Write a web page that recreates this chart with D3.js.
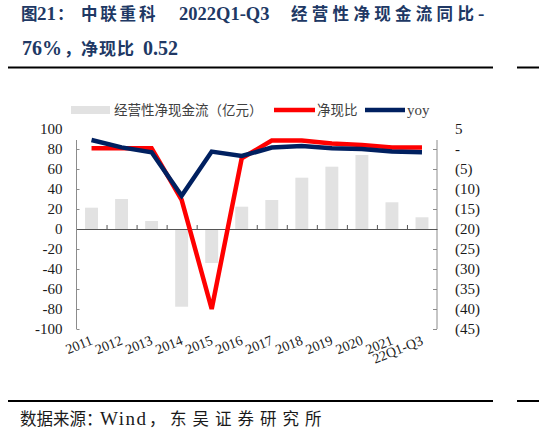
<!DOCTYPE html>
<html>
<head>
<meta charset="utf-8">
<script src="https://cdn.jsdelivr.net/npm/d3@7"></script>
<style>
  body { margin: 0; background: #fff; }
  svg { display: block; }
</style>
</head>
<body>
<svg id="chart" width="539" height="431"></svg>
<script>
// data
const categories = ['2011','2012','2013','2014','2015','2016','2017','2018','2019','2020','2021','22Q1-Q3']
const cashFlow = [21.3, 30, 8, -77.7, -34, 22.3, 29, 51.3, 62.3, 74, 26.7, 11.7]   // 亿元, left axis
const netCashRatio = [0.2, 0.2, 0.2, -12.7, -40, -2.3, 2.1, 2.1, 1.4, 1.0, 0.4, 0.4]  // right axis
const yoy = [2.25, 0.4, -0.8, -11.7, -0.65, -1.75, 0.35, 0.75, 0.2, 0, -0.65, -0.8]   // right axis
const leftTicks = [-100, -80, -60, -40, -20, 0, 20, 40, 60, 80, 100]
const rightTicks = [-45, -40, -35, -30, -25, -20, -15, -10, -5, 0, 5]

const svg = d3.select('#chart')
const navy = '#203864'
const serif = '"Liberation Serif", "Times New Roman", serif'
const cjk = '"Noto Sans CJK SC", sans-serif'

// title, two lines; pieces placed the way the original spaces them
const title = svg.append('g')
    .attr('fill', navy)
    .attr('font-weight', 'bold')
function piece(parent, x, txt, font, size, spacing) {
    parent.append('tspan')
        .attr('x', x)
        .attr('font-family', font)
        .attr('font-size', size)
        .attr('letter-spacing', spacing || 0)
        .text(txt)
}
const t1 = title.append('text').attr('y', 20)
piece(t1, 21, '图', cjk, 16.5)
piece(t1, 37, '21', serif, 19)
piece(t1, 57, '：', cjk, 16.5)
piece(t1, 81, '中联重科', cjk, 16.5, 2.8)
piece(t1, 179, '2022Q1-Q3', serif, 18.5)
piece(t1, 291, '经营性净现金流同比', cjk, 16.5, 4.3)
piece(t1, 478, '-', serif, 19)
const t2 = title.append('text').attr('y', 55)
piece(t2, 22, '76%', serif, 20)
piece(t2, 64, '，', cjk, 17)
piece(t2, 81, '净现比', cjk, 17, 1)
piece(t2, 143, '0.52', serif, 20)

// rules
svg.append('line').attr('x1', 8).attr('x2', 493).attr('y1', 67.5).attr('y2', 67.5).attr('stroke', '#000').attr('stroke-width', 2)
svg.append('line').attr('x1', 517).attr('x2', 539).attr('y1', 67.5).attr('y2', 67.5).attr('stroke', '#000').attr('stroke-width', 2)
svg.append('line').attr('x1', 8).attr('x2', 493).attr('y1', 401).attr('y2', 401).attr('stroke', '#000').attr('stroke-width', 2)
svg.append('line').attr('x1', 517).attr('x2', 539).attr('y1', 401).attr('y2', 401).attr('stroke', '#000').attr('stroke-width', 2)

// footer
const foot = svg.append('text').attr('y', 425).attr('fill', '#1a1a1a')
piece(foot, 20, '数据来源：', cjk, 16.5)
piece(foot, 100, 'Wind', serif, 19, 1.5)
piece(foot, 149, '，', cjk, 16.5)
piece(foot, 170, '东吴证券研究所', cjk, 16.5, 6)

// scales
const plot = { left: 76.5, right: 437, top: 129, bottom: 329 }
const x = d3.scaleBand()
    .domain(categories)
    .range([plot.left, plot.right])
    .paddingInner(0.57)
    .paddingOuter(0.285)
const xi = d3.scaleLinear().domain([0, categories.length]).range([plot.left, plot.right])
const yL = d3.scaleLinear().domain([-100, 100]).range([plot.bottom, plot.top])
const yR = d3.scaleLinear().domain([-45, 5]).range([plot.bottom, plot.top])
const cx = d => x(d) + x.bandwidth() / 2

// bars
svg.append('g')
    .selectAll('rect')
    .data(categories)
    .join('rect')
    .attr('x', d => x(d))
    .attr('width', x.bandwidth())
    .attr('y', (d, i) => yL(Math.max(0, cashFlow[i])))
    .attr('height', (d, i) => Math.abs(yL(cashFlow[i]) - yL(0)))
    .attr('fill', '#e2e2e2')

// axes
const axisColor = '#8c8c8c'
const axisTopY = 140   // the axis lines stop a little under the top tick in the original

const gl = svg.append('g')
    .attr('transform', `translate(${plot.left},0)`)
    .call(d3.axisLeft(yL).tickValues(leftTicks).tickFormat(d => String(d)).tickSizeInner(-3).tickSizeOuter(0).tickPadding(14))
gl.attr('font-family', serif).attr('font-size', 15)
gl.select('.domain').remove()
gl.selectAll('.tick text').attr('fill', '#1a1a1a')
gl.selectAll('.tick line').attr('stroke', axisColor).filter(d => d === 100).remove()
gl.append('line').attr('y1', axisTopY).attr('y2', plot.bottom).attr('stroke', axisColor)

const fmtR = v => v === 0 ? '-' : v < 0 ? `(${-v})` : `${v}`
const gr = svg.append('g')
    .attr('transform', `translate(${plot.right},0)`)
    .call(d3.axisRight(yR).tickValues(rightTicks).tickFormat(fmtR).tickSizeInner(-4).tickSizeOuter(0).tickPadding(18))
gr.attr('font-family', serif).attr('font-size', 15)
gr.select('.domain').remove()
gr.selectAll('.tick text').attr('fill', '#1a1a1a')
gr.selectAll('.tick line').attr('stroke', axisColor).filter(d => d === 5).remove()
gr.append('line').attr('y1', axisTopY).attr('y2', plot.bottom).attr('stroke', axisColor)

const gx = svg.append('g')
    .attr('transform', `translate(0,${yL(0)})`)
    .call(d3.axisBottom(xi).tickValues(d3.range(1, categories.length)).tickFormat('').tickSizeInner(-4).tickSizeOuter(0))
gx.select('.domain').attr('stroke', '#555')
gx.selectAll('.tick line').attr('stroke', '#555')

// category labels under the plot
svg.append('g')
    .selectAll('text')
    .data(categories)
    .join('text')
    .attr('transform', d => `translate(${cx(d) + 2},344) rotate(-22)`)
    .attr('text-anchor', 'end')
    .attr('font-family', serif)
    .attr('font-size', 14)
    .attr('fill', '#1a1a1a')
    .text(d => d)

// lines
const line = d3.line()
    .x((d, i) => cx(categories[i]))
    .y(d => yR(d))

svg.append('path')
    .datum(netCashRatio)
    .attr('d', line)
    .attr('fill', 'none')
    .attr('stroke', '#ff0000')
    .attr('stroke-width', 4.5)

svg.append('path')
    .datum(yoy)
    .attr('d', line)
    .attr('fill', 'none')
    .attr('stroke', '#002060')
    .attr('stroke-width', 4.5)

// legend
const legend = svg.append('g')
    .attr('font-size', 13.5)
    .attr('fill', '#404040')
legend.append('rect').attr('x', 71).attr('y', 106).attr('width', 39).attr('height', 8).attr('fill', '#e2e2e2')
legend.append('text').attr('x', 114).attr('y', 115).attr('font-family', cjk).text('经营性净现金流（亿元）')
legend.append('line').attr('x1', 274).attr('x2', 315).attr('y1', 110).attr('y2', 110).attr('stroke', '#ff0000').attr('stroke-width', 4.5)
legend.append('text').attr('x', 317).attr('y', 115).attr('font-family', cjk).text('净现比')
legend.append('line').attr('x1', 365).attr('x2', 405).attr('y1', 110).attr('y2', 110).attr('stroke', '#002060').attr('stroke-width', 4.5)
legend.append('text').attr('x', 407).attr('y', 115).attr('font-family', serif).attr('font-size', 15).text('yoy')
</script>
</body>
</html>
